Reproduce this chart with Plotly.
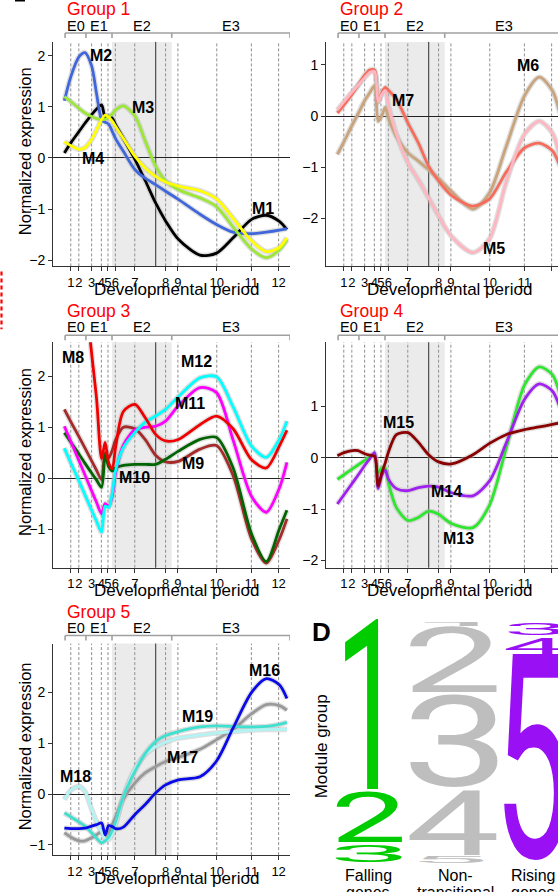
import json
import plotly.graph_objects as go

W, H = 558, 892
FONT = "Liberation Sans, Arial, Helvetica, sans-serif"
LOGO_FONT = "Roboto, Liberation Sans, Arial, sans-serif"

# ------------------------------------------------------------------ data
period_x = [0.75, 1.09, 1.63, 2.04, 2.32, 2.63, 3.45, 4.75, 5.27, 6.91, 8.37, 9.52]
period_labels = ["1", "2", "3", "4", "5", "6", "7", "8", "9", "10", "11", "12"]
epoch_edges = [0.51, 1.39, 2.49, 5.01, 10.0]
epoch_names = ["E0", "E1", "E2", "E3"]
birth_x = 4.33

age_x = [0.48, 0.76, 1.10, 1.35, 1.63, 1.84, 2.05, 2.20, 2.35, 2.50, 2.64, 2.97,
         3.46, 3.90, 4.33, 4.75, 5.29, 6.20, 6.90, 7.60, 8.38, 9.00, 9.55, 9.87]

m1 = [0.10, 0.30, 0.52, 0.68, 0.85, 0.96, 1.04, 0.80, 0.82, 0.78, 0.65, 0.38, -0.03, -0.45, -0.88, -1.23, -1.59, -1.90, -1.86, -1.56, -1.20, -1.12, -1.24, -1.40]
m2 = [1.12, 1.60, 1.98, 2.06, 1.80, 1.25, 0.75, 0.70, 0.66, 0.52, 0.38, 0.13, -0.23, -0.40, -0.52, -0.65, -0.81, -1.10, -1.30, -1.45, -1.48, -1.45, -1.41, -1.38]
m3 = [1.20, 1.10, 0.97, 0.88, 0.81, 0.77, 0.75, 0.76, 0.80, 0.86, 0.94, 1.02, 0.82, 0.32, -0.16, -0.45, -0.62, -0.78, -0.95, -1.35, -1.78, -1.95, -1.80, -1.60]
m4 = [0.32, 0.24, 0.17, 0.20, 0.36, 0.55, 0.75, 0.84, 0.80, 0.72, 0.62, 0.38, 0.03, -0.20, -0.36, -0.47, -0.55, -0.64, -0.80, -1.18, -1.62, -1.83, -1.75, -1.56]

m5 = [0.12, 0.28, 0.47, 0.60, 0.75, 0.85, 0.87, 0.28, 0.42, 0.50, 0.20, -0.35, -0.92, -1.25, -1.60, -1.95, -2.35, -2.67, -2.40, -1.30, -0.35, -0.10, -0.33, -0.80]
m6 = [-0.75, -0.50, -0.18, 0.04, 0.30, 0.45, 0.59, -0.10, 0.00, 0.17, -0.05, -0.40, -0.72, -0.88, -1.05, -1.22, -1.47, -1.82, -1.50, -0.60, 0.40, 0.76, 0.50, 0.05]
m7 = [0.06, 0.22, 0.43, 0.60, 0.80, 0.90, 0.90, 0.28, 0.45, 0.56, 0.50, 0.33, -0.14, -0.53, -0.98, -1.27, -1.55, -1.76, -1.62, -1.10, -0.62, -0.53, -0.68, -0.98]

m8 = [6.50, 5.70, 4.80, 3.70, 2.45, 1.55, 0.38, 0.70, 0.30, 0.18, 0.60, 1.31, 1.45, 1.18, 0.86, 0.73, 0.76, 1.05, 1.22, 0.97, 0.36, 0.20, 0.63, 0.94]
m9 = [1.35, 1.10, 0.81, 0.59, 0.34, 0.15, -0.03, 0.50, 0.40, 0.55, 0.75, 1.00, 0.97, 0.75, 0.45, 0.32, 0.33, 0.57, 0.64, 0.05, -1.20, -1.67, -1.20, -0.80]
m10 = [0.89, 0.70, 0.47, 0.29, 0.10, -0.04, -0.18, 0.45, 0.22, 0.14, 0.20, 0.25, 0.27, 0.27, 0.27, 0.37, 0.53, 0.76, 0.80, 0.20, -1.10, -1.64, -1.00, -0.63]
m11 = [1.02, 0.71, 0.34, 0.06, -0.25, -0.48, -0.70, -0.50, -0.55, -0.35, 0.10, 0.65, 0.95, 1.00, 1.02, 1.12, 1.42, 1.78, 1.68, 0.75, -0.36, -0.67, -0.20, 0.31]
m12 = [0.59, 0.29, -0.06, -0.33, -0.63, -0.85, -1.06, -0.55, -0.58, -0.30, 0.15, 0.60, 0.90, 1.10, 1.22, 1.35, 1.60, 1.97, 1.99, 1.40, 0.63, 0.41, 0.76, 1.12]

m13 = [-0.42, -0.33, -0.22, -0.14, -0.05, 0.02, 0.07, -0.30, -0.20, -0.20, -0.50, -0.97, -1.22, -1.16, -1.04, -1.10, -1.28, -1.36, -0.92, 0.18, 1.42, 1.77, 1.62, 1.24]
m14 = [-0.90, -0.72, -0.50, -0.34, -0.15, -0.02, 0.10, -0.60, -0.35, -0.24, -0.42, -0.60, -0.64, -0.58, -0.55, -0.57, -0.68, -0.74, -0.45, 0.28, 1.14, 1.44, 1.30, 0.98]
m15 = [0.04, 0.10, 0.14, 0.14, 0.08, 0.05, 0.03, -0.55, -0.30, -0.10, 0.12, 0.45, 0.49, 0.30, 0.06, -0.08, -0.12, 0.06, 0.28, 0.45, 0.55, 0.60, 0.65, 0.68]

m16 = [-0.67, -0.68, -0.68, -0.67, -0.63, -0.60, -0.57, -0.80, -0.62, -0.64, -0.68, -0.65, -0.40, -0.20, 0.02, 0.18, 0.28, 0.34, 0.65, 1.30, 2.00, 2.27, 2.15, 1.88]
m17 = [-0.76, -0.85, -0.92, -0.92, -0.86, -0.80, -0.74, -0.82, -0.75, -0.60, -0.45, -0.10, 0.22, 0.42, 0.54, 0.64, 0.72, 0.88, 1.07, 1.27, 1.58, 1.76, 1.74, 1.65]
m18 = [-0.11, 0.08, 0.15, 0.05, -0.30, -0.55, -0.75, -0.88, -0.90, -0.78, -0.60, -0.05, 0.50, 0.78, 0.93, 1.02, 1.10, 1.16, 1.20, 1.23, 1.26, 1.27, 1.27, 1.27]
m19 = [-0.37, -0.45, -0.55, -0.63, -0.76, -0.87, -0.96, -0.92, -0.85, -0.72, -0.55, -0.05, 0.45, 0.80, 1.03, 1.15, 1.23, 1.32, 1.34, 1.33, 1.32, 1.33, 1.37, 1.41]

# module-group logo (proportions of genes per module group, groups 1..5)
logo_groups = ["1", "2", "3", "4", "5"]
logo_falling = [0.698, 0.219, 0.083, 0.0, 0.0]
logo_nontrans = [0.017, 0.281, 0.397, 0.277, 0.028]
logo_rising = [0.0, 0.0, 0.062, 0.079, 0.859]
logo_col_labels = [("Falling", "genes"), ("Non-", "transitional"), ("Rising", "genes")]

# ------------------------------------------------------------------ styles
colors = {
    "M1": "#000000", "M2": "#4066DC", "M3": "#9BE636", "M4": "#FFFF00",
    "M5": "#FFB6C1", "M6": "#C9A47C", "M7": "#F76B5B",
    "M8": "#F00000", "M9": "#A52A2A", "M10": "#006400", "M11": "#FF00FF", "M12": "#00FFFF",
    "M13": "#2EE62E", "M14": "#A020F0", "M15": "#8B0000",
    "M16": "#0A0AE6", "M17": "#999999", "M18": "#B2F3F3", "M19": "#40E0D0",
}
series = {"M1": m1, "M2": m2, "M3": m3, "M4": m4, "M5": m5, "M6": m6, "M7": m7,
          "M8": m8, "M9": m9, "M10": m10, "M11": m11, "M12": m12, "M13": m13,
          "M14": m14, "M15": m15, "M16": m16, "M17": m17, "M18": m18, "M19": m19}

PXU = 23.7  # pixels per x unit
panels = [
    dict(title="Group 1", mods=["M1", "M2", "M3", "M4"], box=(53, 42, 290, 267),
         yr=(-2.12, 2.27), yt=[-2, -1, 0, 1, 2], ytitle=True, gy=9, ey=26.5, by=33,
         labels=[("M2", 101, 56), ("M3", 143, 108), ("M4", 93, 159), ("M1", 263, 209)]),
    dict(title="Group 2", mods=["M6", "M7", "M5"], box=(326, 42, 558, 267),
         yr=(-2.94, 1.45), yt=[-2, -1, 0, 1], ytitle=False, gy=9, ey=26.5, by=33,
         labels=[("M7", 403, 101), ("M6", 528, 66), ("M5", 494, 249)]),
    dict(title="Group 3", mods=["M9", "M10", "M11", "M12", "M8"], box=(53, 343, 290, 569),
         yr=(-1.76, 2.67), yt=[-1, 0, 1, 2], ytitle=True, gy=312, ey=328, by=336,
         labels=[("M8", 73, 358), ("M12", 196, 362), ("M11", 190, 404), ("M9", 193, 465), ("M10", 134, 479)]),
    dict(title="Group 4", mods=["M13", "M14", "M15"], box=(326, 343, 558, 569),
         yr=(-2.14, 2.25), yt=[-2, -1, 0, 1], ytitle=False, gy=312, ey=328, by=336,
         labels=[("M15", 398, 423), ("M14", 446, 493), ("M13", 458, 540)]),
    dict(title="Group 5", mods=["M17", "M18", "M19", "M16"], box=(53, 645, 290, 857),
         yr=(-1.20, 2.96), yt=[-1, 0, 1, 2], ytitle=True, gy=613, ey=629, by=637,
         labels=[("M16", 264, 672), ("M19", 197, 718), ("M17", 182, 759), ("M18", 75, 778)]),
]


def fx(px):
    return px / W


def fy(py):
    return 1 - py / H


fig = go.Figure()
layout = dict(width=W, height=H, autosize=False, margin=dict(l=0, r=0, t=0, b=0),
              paper_bgcolor="white", plot_bgcolor="white", showlegend=False,
              font=dict(family=FONT, color="black"))
shapes = []
annotations = []

for i, p in enumerate(panels):
    n = "" if i == 0 else str(i + 1)
    xa, ya = "x" + n, "y" + n
    x0, y0, x1, y1 = p["box"]
    xmax = (x1 - x0) / PXU
    layout["xaxis" + n] = dict(
        domain=[fx(x0), fx(x1)], range=[0, xmax], anchor=ya,
        tickmode="array", tickvals=period_x, ticktext=period_labels, tickangle=0,
        showline=True, linecolor="#333", linewidth=1, ticks="outside", ticklen=4,
        tickcolor="#333", showgrid=False, zeroline=False,
        tickfont=dict(size=13, family=FONT, color="black"), fixedrange=True)
    layout["yaxis" + n] = dict(
        domain=[fy(y1), fy(y0)], range=list(p["yr"]), anchor=xa,
        tickmode="array", tickvals=p["yt"],
        showline=True, linecolor="#333", linewidth=1, ticks="outside", ticklen=4,
        tickcolor="#333", showgrid=False, zeroline=True, zerolinecolor="#222",
        zerolinewidth=1.1, tickfont=dict(size=14, family=FONT, color="black"), fixedrange=True)

    # shaded prenatal window + period guide lines + birth line
    shapes.append(dict(type="rect", xref=xa, yref=ya + " domain", x0=epoch_edges[2], x1=epoch_edges[3],
                       y0=0, y1=1, fillcolor="#EBEBEB", line=dict(width=0), layer="below"))
    for k, px_ in enumerate(period_x):
        shapes.append(dict(type="line", xref=xa, yref=ya + " domain", x0=px_, x1=px_, y0=0, y1=1,
                           line=dict(color="#8f8f8f", width=1, dash="3px,2px"), layer="below"))
    shapes.append(dict(type="line", xref=xa, yref=ya + " domain", x0=birth_x, x1=birth_x, y0=0, y1=1,
                       line=dict(color="#555", width=1.3), layer="below"))

    # epoch bracket
    by = p["by"]
    shapes.append(dict(type="line", xref=xa, yref="paper", x0=epoch_edges[0], x1=epoch_edges[-1],
                       y0=fy(by), y1=fy(by), line=dict(color="#a0a0a0", width=1.6)))
    for e in epoch_edges:
        shapes.append(dict(type="line", xref=xa, yref="paper", x0=e, x1=e,
                           y0=fy(by), y1=fy(by + 5), line=dict(color="#a0a0a0", width=1.6)))
    for k, name in enumerate(epoch_names):
        xm = (epoch_edges[k] + epoch_edges[k + 1]) / 2
        annotations.append(dict(text=name, xref=xa, yref="paper", x=xm, y=fy(p["ey"]),
                                showarrow=False, font=dict(size=14.5, family=FONT, color="black"),
                                xanchor="center", yanchor="middle"))
    annotations.append(dict(text=p["title"], xref="paper", yref="paper", x=fx(x0 + 12), y=fy(p["gy"]),
                            showarrow=False, font=dict(size=17.5, family=FONT, color="#FF0000"),
                            xanchor="left", yanchor="middle"))
    annotations.append(dict(text="Developmental period", xref="paper", yref="paper",
                            x=fx(x0 + 123), y=fy(y1 + 23), showarrow=False,
                            font=dict(size=17, family=FONT, color="black"),
                            xanchor="center", yanchor="middle"))
    if p["ytitle"]:
        annotations.append(dict(text="Normalized expression", xref="paper", yref="paper",
                                x=fx(25), y=fy((y0 + y1) / 2 - 3), textangle=-90, showarrow=False,
                                font=dict(size=16.5, family=FONT, color="black"),
                                xanchor="center", yanchor="middle"))
    for lab, lx, ly in p["labels"]:
        annotations.append(dict(text="<b>%s</b>" % lab, xref="paper", yref="paper", x=fx(lx), y=fy(ly),
                                showarrow=False, font=dict(size=16, family=FONT, color="black"),
                                xanchor="center", yanchor="middle"))

    # confidence ribbons then curves
    for m in p["mods"]:
        fig.add_trace(go.Scatter(x=age_x, y=series[m], mode="lines", xaxis=xa, yaxis=ya,
                                 line=dict(color="rgba(185,185,185,0.45)", width=5.5,
                                           shape="spline", smoothing=0.8),
                                 hoverinfo="skip"))
    for m in p["mods"]:
        fig.add_trace(go.Scatter(x=age_x, y=series[m], mode="lines", xaxis=xa, yaxis=ya, name=m,
                                 line=dict(color=colors[m], width=2.8, shape="spline", smoothing=0.8),
                                 hoverinfo="skip"))

# small fragments of neighbouring panels
shapes.append(dict(type="line", xref="paper", yref="paper", x0=fx(1.5), x1=fx(1.5), y0=fy(272), y1=fy(330),
                   line=dict(color="#FF0000", width=2.2, dash="4px,3px")))
shapes.append(dict(type="rect", xref="paper", yref="paper", x0=fx(15), x1=fx(25), y0=fy(0), y1=fy(1.5),
                   fillcolor="black", line=dict(width=0)))

# ------------------------------------------------------------------ panel D (logo)
annotations.append(dict(text="<b>D</b>", xref="paper", yref="paper", x=fx(321), y=fy(633), showarrow=False,
                        font=dict(size=26, family=FONT, color="black"), xanchor="center", yanchor="middle"))
annotations.append(dict(text="Module group", xref="paper", yref="paper", x=fx(321), y=fy(748), textangle=-90,
                        showarrow=False, font=dict(size=17, family=FONT, color="black"),
                        xanchor="center", yanchor="middle"))

logo_top, logo_bottom = 622, 864
logo_cols = [((335, 403), logo_falling, "#00CC00"),
             ((408, 498), logo_nontrans, "#BEBEBE"),
             ((503, 568), logo_rising, "#9A10F5")]
targets = {}
span = logo_bottom - logo_top
for (cx0, cx1), props, col in logo_cols:
    cum = 0.0
    for g, pr in zip(logo_groups, props):
        if pr <= 0:
            continue
        ty0 = logo_top + cum * span
        ty1 = ty0 + pr * span
        cum += pr
        h = ty1 - ty0
        if h > 8:
            iy0, iy1 = ty0 + 1, ty1 - 2
        else:
            iy0, iy1 = ty0 + 0.5, max(ty0 + 2.5, ty1 - 0.5)
        mode = "adv" if (g == "1" and h > 10) else "ink"
        fsize = max(4.0, min(60.0, (iy1 - iy0) / 0.72))
        idx = len(annotations)
        annotations.append(dict(text=g, xref="paper", yref="paper", x=fx((cx0 + cx1) / 2),
                                y=fy((iy0 + iy1) / 2), showarrow=False,
                                font=dict(size=fsize, family=LOGO_FONT, color=col),
                                xanchor="center", yanchor="middle"))
        targets[str(idx)] = [cx0, cx1, iy0, iy1, mode]

label_centers = [368, 455, 533]
for cxm, (l1, l2) in zip(label_centers, logo_col_labels):
    annotations.append(dict(text=l1, xref="paper", yref="paper", x=fx(cxm), y=fy(877), showarrow=False,
                            font=dict(size=16, family=FONT, color="black"), xanchor="center", yanchor="middle"))
    annotations.append(dict(text=l2, xref="paper", yref="paper", x=fx(cxm), y=fy(895), showarrow=False,
                            font=dict(size=16, family=FONT, color="black"), xanchor="center", yanchor="middle"))

layout["shapes"] = shapes
layout["annotations"] = annotations
fig.update_layout(**layout)

post = r"""
document.documentElement.style.margin='0';
document.body.style.margin='0';
document.body.style.padding='0';
(function(){
 try {
  var gd = document.getElementById('{plot_id}');
  var T = __TARGETS__;
  var NS = 'http://www.w3.org/2000/svg';
  var svg = gd.querySelector('svg.main-svg');
  var R = svg.getBoundingClientRect();
  var ctx = document.createElement('canvas').getContext('2d');
  var gs = gd.querySelectorAll('g.annotation');
  for (var i = 0; i < gs.length; i++) {
    var g = gs[i];
    var tg = T[g.getAttribute('data-index')];
    if (!tg) continue;
    var t = g.querySelector('text.annotation-text');
    if (!t) continue;
    var cs = window.getComputedStyle(t);
    ctx.font = cs.fontWeight + ' ' + cs.fontSize + ' ' + cs.fontFamily;
    var m = ctx.measureText(t.textContent);
    var bb = t.getBBox();
    var fa = m.fontBoundingBoxAscent, fd = m.fontBoundingBoxDescent;
    if (!(fa > 0)) { fa = 0.905; fd = 0.212; }
    var base = bb.y + bb.height * fa / (fa + fd);
    var L, Rr;
    if (tg[4] === 'adv') { L = bb.x; Rr = bb.x + bb.width; }
    else { L = bb.x - m.actualBoundingBoxLeft; Rr = bb.x + m.actualBoundingBoxRight; }
    var Tp = base - m.actualBoundingBoxAscent, Bt = base + m.actualBoundingBoxDescent;
    var c = t.getScreenCTM();
    var w = document.createElementNS(NS, 'g');
    t.parentNode.insertBefore(w, t);
    w.appendChild(t);
    var Wm = w.getScreenCTM();
    var ax = (c.a * L + c.e - Wm.e) / Wm.a, bx = (c.a * Rr + c.e - Wm.e) / Wm.a;
    var ay = (c.d * Tp + c.f - Wm.f) / Wm.d, by = (c.d * Bt + c.f - Wm.f) / Wm.d;
    var qx0 = (R.left + tg[0] - Wm.e) / Wm.a, qx1 = (R.left + tg[1] - Wm.e) / Wm.a;
    var qy0 = (R.top + tg[2] - Wm.f) / Wm.d, qy1 = (R.top + tg[3] - Wm.f) / Wm.d;
    var sx = (qx1 - qx0) / (bx - ax), sy = (qy1 - qy0) / (by - ay);
    var tx = qx0 - sx * ax, ty = qy0 - sy * ay;
    w.setAttribute('transform', 'matrix(' + sx + ' 0 0 ' + sy + ' ' + tx + ' ' + ty + ')');
  }
 } catch (e) { console.log(e); }
})();
""".replace("__TARGETS__", json.dumps(targets))

fig.write_html("out.html", post_script=post, config={"displayModeBar": False, "responsive": False})
